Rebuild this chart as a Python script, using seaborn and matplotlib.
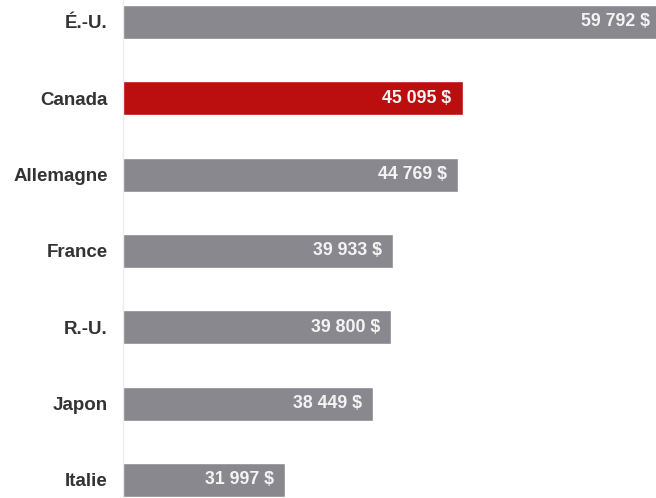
import matplotlib
matplotlib.use("Agg")
import matplotlib.pyplot as plt
import seaborn as sns
import pandas as pd

# PIB par habitant (USD)
pays = ["É.-U.", "Canada", "Allemagne", "France", "R.-U.", "Japon", "Italie"]
valeurs = [59792, 45095, 44769, 39933, 39800, 38449, 31997]
couleurs = ["#88888e", "#bb0f0f", "#88888e", "#88888e", "#88888e", "#88888e", "#88888e"]

sns.set_theme(style="white")
plt.rcParams["font.family"] = ["Liberation Sans", "DejaVu Sans"]

df = pd.DataFrame({"pays": pays, "valeur": valeurs})

fig = plt.figure(figsize=(6.56, 4.98), dpi=100)
ax = fig.add_axes([123 / 656, 0, 533 / 656, 1])

sns.barplot(data=df, x="valeur", y="pays", hue="pays", palette=couleurs,
            order=pays, hue_order=pays, orient="h", width=0.445,
            legend=False, ax=ax, saturation=1)

ax.set_xlim(20000, 59387)
ax.set_ylim(6.236, -0.288)

for i, v in enumerate(valeurs):
    txt = f"{v:,}".replace(",", " ") + " $"
    ax.annotate(txt, xy=(v, i), xytext=(-11, 0), textcoords="offset pixels",
                ha="right", va="center", color="#f4f4f4", fontsize=12.8,
                fontweight="bold", annotation_clip=False)

ax.set_xlabel("")
ax.set_ylabel("")
ax.set_xticks([])
ax.tick_params(axis="y", length=0, pad=11)
for lab in ax.get_yticklabels():
    lab.set_fontsize(13.5)
    lab.set_fontweight("bold")
    lab.set_color("#333333")

for s in ["top", "right", "bottom"]:
    ax.spines[s].set_visible(False)
ax.spines["left"].set_color("#ececec")
ax.spines["left"].set_linewidth(1)

fig.savefig("out.png", dpi=100)
